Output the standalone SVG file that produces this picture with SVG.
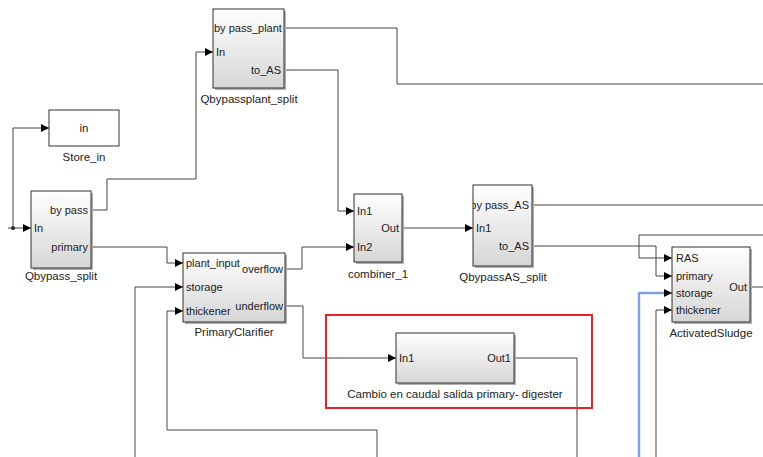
<svg xmlns="http://www.w3.org/2000/svg" width="763" height="457" viewBox="0 0 763 457">
<defs>
<linearGradient id="g" x1="0" y1="0" x2="0" y2="1">
<stop offset="0" stop-color="#ffffff"/>
<stop offset="1" stop-color="#d6d6d6"/>
</linearGradient>
<marker id="a" markerUnits="userSpaceOnUse" markerWidth="9" markerHeight="9" refX="8" refY="4.5" orient="auto">
<path d="M0,0.5 L8,4.5 L0,8.5 z" fill="#000"/>
</marker>
<clipPath id="cAS"><rect x="473" y="185" width="59" height="81"/></clipPath>
</defs>
<style>
.blk{fill:url(#g);stroke:#303030;stroke-width:1}
.sh{fill:#b0b0b0}
.w{fill:#fff;stroke:#303030;stroke-width:1}
text{font-family:"Liberation Sans",Arial,sans-serif;font-size:11px;fill:#222}
.r{text-anchor:end}
.c{text-anchor:middle;font-size:11.5px}
.ln{fill:none;stroke:#444;stroke-width:1}
.arr{marker-end:url(#a)}
</style>
<rect width="763" height="457" fill="#fff"/>
<g id="connectors">
<path class="ln arr" d="M8,228 L31,228"/>
<circle cx="13" cy="228" r="2" fill="#222"/>
<path class="ln arr" d="M13,228 L13,128 L49,128"/>
<path class="ln arr" d="M91,210 L107,210 L107,179 L196,179 L196,52 L213,52"/>
<path class="ln arr" d="M91,247 L167,247 L167,263 L183,263"/>
<path class="ln" d="M284,28 L397,28 L397,84 L763,84"/>
<path class="ln arr" d="M284,70 L338,70 L338,211 L354,211"/>
<path class="ln arr" d="M285,269 L302,269 L302,247 L354,247"/>
<path class="ln arr" d="M402,228 L473,228"/>
<path class="ln" d="M532,205 L763,205"/>
<path class="ln arr" d="M532,246 L656,246 L656,276 L672,276"/>
<path class="ln arr" d="M763,235 L639,235 L639,258 L672,258"/>
<path class="ln" d="M750,287 L763,287"/>
<path d="M639,457 L639,293 L668,293" fill="none" stroke="#c2d8f4" stroke-width="3"/>
<path class="arr" d="M639,457 L639,293 L672,293" fill="none" stroke="#3a68c8" stroke-width="1"/>
<path class="ln arr" d="M656,457 L656,310 L672,310"/>
<path class="ln arr" d="M285,306 L303,306 L303,358 L396,358"/>
<path class="ln" d="M514,358 L577,358 L577,457"/>
<path class="ln arr" d="M135,457 L135,287 L183,287"/>
<path class="ln arr" d="M377,457 L377,430 L167,430 L167,311 L183,311"/>
</g>
<g id="Qbypassplant_split">
<rect class="sh" x="215" y="11" width="71" height="79"/>
<rect class="blk" x="213" y="9" width="71" height="79"/>
<text x="214" y="32">by pass_plant</text>
<text x="216" y="56">In</text>
<text class="r" x="281" y="74">to_AS</text>
<text class="c" x="249" y="103">Qbypassplant_split</text>
</g>
<g id="Store_in">
<rect class="w" x="49" y="110" width="70" height="36"/>
<text class="c" x="84" y="132">in</text>
<text class="c" x="84" y="161">Store_in</text>
</g>
<g id="Qbypass_split">
<rect class="sh" x="33" y="193" width="60" height="77"/>
<rect class="blk" x="31" y="191" width="60" height="77"/>
<text class="r" x="88" y="214">by pass</text>
<text x="34" y="232">In</text>
<text class="r" x="88" y="251">primary</text>
<text class="c" x="61" y="280">Qbypass_split</text>
</g>
<g id="PrimaryClarifier">
<rect class="sh" x="185" y="255" width="102" height="69"/>
<rect class="blk" x="183" y="253" width="102" height="69"/>
<text x="186" y="267">plant_input</text>
<text x="186" y="291">storage</text>
<text x="186" y="315">thickener</text>
<text class="r" x="283" y="273">overflow</text>
<text class="r" x="283" y="310">underflow</text>
<text class="c" x="234" y="336">PrimaryClarifier</text>
</g>
<g id="combiner_1">
<rect class="sh" x="356" y="196" width="48" height="68"/>
<rect class="blk" x="354" y="194" width="48" height="68"/>
<text x="357" y="215">In1</text>
<text x="357" y="251">In2</text>
<text class="r" x="399" y="232">Out</text>
<text class="c" x="378" y="278">combiner_1</text>
</g>
<g id="QbypassAS_split">
<rect class="sh" x="475" y="187" width="59" height="81"/>
<rect class="blk" x="473" y="185" width="59" height="81"/>
<text class="r" x="529" y="209" clip-path="url(#cAS)">by pass_AS</text>
<text x="476" y="232">In1</text>
<text class="r" x="529" y="250">to_AS</text>
<text class="c" x="503" y="281">QbypassAS_split</text>
</g>
<g id="ActivatedSludge">
<rect class="sh" x="674" y="249" width="78" height="75"/>
<rect class="blk" x="672" y="247" width="78" height="75"/>
<text x="676" y="262">RAS</text>
<text x="676" y="280">primary</text>
<text x="676" y="297">storage</text>
<text x="676" y="314">thickener</text>
<text class="r" x="747" y="291">Out</text>
<text class="c" x="711" y="337">ActivatedSludge</text>
</g>
<g id="Digester">
<rect class="sh" x="398" y="335" width="118" height="50"/>
<rect class="blk" x="396" y="333" width="118" height="50"/>
<text x="399" y="362">In1</text>
<text class="r" x="511" y="362">Out1</text>
<text class="c" x="455" y="398">Cambio en caudal salida primary- digester</text>
</g>
<g id="highlight">
<rect x="326" y="315" width="266" height="93" fill="none" stroke="#e8212b" stroke-width="2"/>
</g>
</svg>
